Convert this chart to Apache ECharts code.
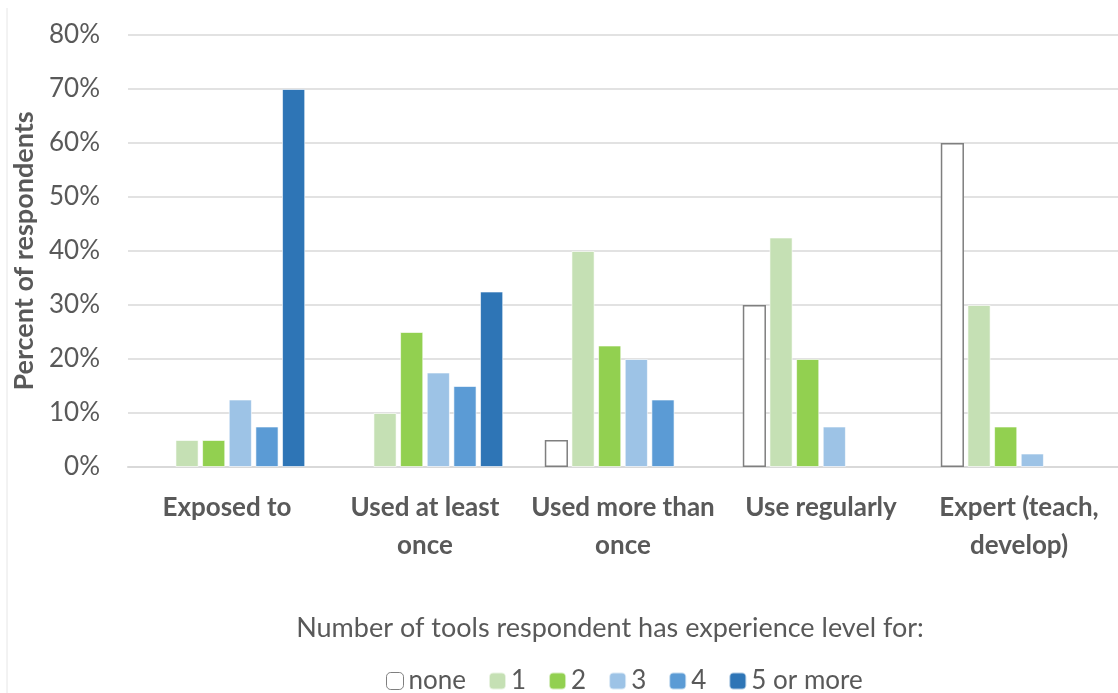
<!DOCTYPE html>
<html>
<head>
<meta charset="utf-8">
<script src="https://cdn.jsdelivr.net/npm/echarts@6/dist/echarts.min.js"></script>
<style>
  html, body { margin: 0; padding: 0; background: #fff; }
  #chart { width: 1118px; height: 693px; }
</style>
</head>
<body>
<div id="chart"></div>
<script>
// categories on the x axis
const levels = ['Exposed to', 'Used at least\nonce', 'Used more than\nonce', 'Use regularly', 'Expert (teach,\ndevelop)']

// percent of respondents per number of tools
const none = [0, 0, 5, 30, 60]
const one = [5, 10, 40, 42.5, 30]
const two = [5, 25, 22.5, 20, 7.5]
const three = [12.5, 17.5, 20, 7.5, 2.5]
const four = [7.5, 15, 12.5, 0, 0]
const fiveOrMore = [70, 32.5, 0, 0, 0]

const seriesNames = ['none', '1', '2', '3', '4', '5 or more']
const seriesColors = ['#ffffff', '#c5e0b4', '#92d050', '#9dc3e6', '#5b9bd5', '#2e75b6']

const font = 'Lato, "Open Sans", sans-serif'
const textColor = '#595959'

const chart = echarts.init(document.getElementById('chart'))

// zero bars get no border so nothing shows at the baseline
const makeSeries = (name, data, i) => ({
  name: name,
  type: 'bar',
  data: data.map(v => v === 0 ? { value: v, itemStyle: { borderWidth: 0 } } : v),
  barGap: '15%',
  barCategoryGap: '21%',
  itemStyle: i === 0
    ? { color: '#ffffff', borderColor: '#7f7f7f', borderWidth: 1.5 }
    : { color: seriesColors[i], borderColor: 'rgba(255,255,255,0.6)', borderWidth: 1 }
})

const option = {
  animation: false,
  grid: { left: 128, right: 0, top: 35, bottom: 226 },
  legend: {
    top: 663,
    left: 381,
    itemWidth: 17,
    itemHeight: 17,
    itemGap: 22,
    textStyle: { fontFamily: font, fontSize: 26, color: textColor },
    data: seriesNames.map((n, i) => ({
      name: n,
      itemStyle: i === 0 ? { color: '#fff', borderColor: '#7f7f7f', borderWidth: 1 } : { color: seriesColors[i] }
    }))
  },
  xAxis: {
    type: 'category',
    data: levels,
    name: 'Number of tools respondent has experience level for:',
    nameLocation: 'middle',
    nameGap: 148,
    nameTextStyle: { fontFamily: font, fontSize: 27, color: textColor, padding: [0, 26, 0, 0] },
    axisLine: { lineStyle: { color: '#d9d9d9', width: 2 } },
    axisTick: { show: false },
    axisLabel: {
      interval: 0,
      margin: 22,
      fontFamily: font,
      fontSize: 26,
      fontWeight: 'bold',
      color: textColor,
      lineHeight: 38
    }
  },
  yAxis: {
    type: 'value',
    min: 0,
    max: 80,
    interval: 10,
    name: 'Percent of respondents',
    nameLocation: 'middle',
    nameGap: 80,
    nameTextStyle: { fontFamily: font, fontSize: 27, fontWeight: 'bold', color: textColor },
    axisLine: { show: false },
    axisTick: { show: false },
    splitLine: { lineStyle: { color: '#d9d9d9', width: 1.5 } },
    axisLabel: {
      margin: 28,
      fontFamily: font,
      fontSize: 26,
      color: textColor,
      formatter: '{value}%'
    }
  },
  graphic: [
    { type: 'line', shape: { x1: 7, y1: 8, x2: 7, y2: 693 }, style: { stroke: '#e6e6e6', lineWidth: 1 } }
  ],
  series: [none, one, two, three, four, fiveOrMore].map((d, i) => makeSeries(seriesNames[i], d, i))
}

chart.setOption(option)
</script>
</body>
</html>
